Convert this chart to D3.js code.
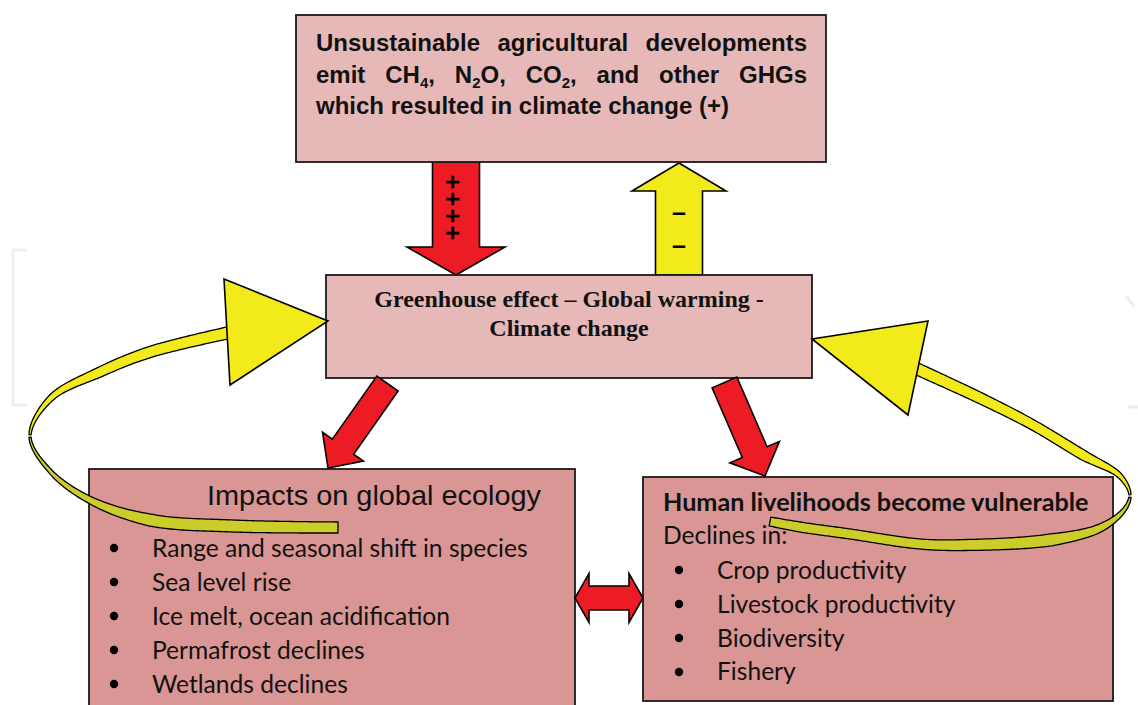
<!DOCTYPE html>
<html>
<head>
<meta charset="utf-8">
<script src="https://cdn.jsdelivr.net/npm/d3@7"></script>
<style>
  body { margin: 0; background: #fff; }
  svg { display: block; }
</style>
</head>
<body>
<div id="chart"></div>
<script>
// ---- diagram content ----
const topLines = [
  "Unsustainable agricultural developments",
  "emit CH_4, N_2O, CO_2, and other GHGs",
  "which resulted in climate change (+)"
];
const centreLines = ["Greenhouse effect \u2013 Global warming -", "Climate change"];
const ecologyTitle = "Impacts on global ecology";
const ecologyItems = [
  "Range and seasonal shift in species",
  "Sea level rise",
  "Ice melt, ocean acidification",
  "Permafrost declines",
  "Wetlands declines"
];
const livelihoodTitle = "Human livelihoods become vulnerable";
const livelihoodLead = "Declines in:";
const livelihoodItems = ["Crop productivity", "Livestock productivity", "Biodiversity", "Fishery"];
const plusSigns = ["+", "+", "+", "+"];
const minusSigns = ["\u2013", "\u2013"];

// ---- layout ----
const W = 1138, H = 705;
const RED = "#ed1c24", YELLOW = "#f2ea1a", OLIVE = "#cccc2b";
const PINK = "#e6b9b8", ROSE = "#d99694";

const svg = d3.select("#chart").append("svg")
    .attr("width", W)
    .attr("height", H);

// faint watermark brackets at the page edges
svg.append("path")
    .attr("d", "M27,250 L13,250 L13,405 L27,405")
    .attr("fill", "none").attr("stroke", "#efefef").attr("stroke-width", 3);
svg.append("path")
    .attr("d", "M1126,296 L1134,306 M1128,407 L1138,407")
    .attr("fill", "none").attr("stroke", "#efefef").attr("stroke-width", 3);

// block arrow from tail centre to tip
function blockArrow(tail, tip, shaftW, headW, headL, fill) {
  const dx = tip[0] - tail[0], dy = tip[1] - tail[1];
  const len = Math.hypot(dx, dy);
  const ang = Math.atan2(dy, dx) * 180 / Math.PI;
  const s = shaftW / 2, h = headW / 2, b = len - headL;
  const pts = [[0, -s], [b, -s], [b, -h], [len, 0], [b, h], [b, s], [0, s]];
  svg.append("path")
      .attr("transform", `translate(${tail[0]},${tail[1]}) rotate(${ang})`)
      .attr("d", d3.line()(pts) + "Z")
      .attr("fill", fill)
      .attr("stroke", "#000")
      .attr("stroke-width", 1.6)
      .attr("stroke-linejoin", "miter");
}

function box(b) {
  svg.append("rect")
      .attr("x", b.x).attr("y", b.y)
      .attr("width", b.w).attr("height", b.h)
      .attr("fill", b.fill)
      .attr("stroke", "#1a1a1a")
      .attr("stroke-width", 1.8);
}

const boxTop = {x: 296, y: 15, w: 530, h: 147, fill: PINK};
const boxCentre = {x: 326, y: 275, w: 486, h: 103, fill: PINK};
const boxEco = {x: 89, y: 469, w: 486, h: 260, fill: ROSE};
const boxLive = {x: 643, y: 477, w: 470, h: 224, fill: ROSE};

// arrows between top and centre box
blockArrow([456, 162], [456, 275], 47, 98, 28, RED);
blockArrow([679, 275], [679, 163], 47, 94, 28, YELLOW);

[boxTop, boxCentre, boxEco, boxLive].forEach(box);

// diagonal red arrows from centre box
blockArrow([387.5, 383.5], [328, 468], 26, 50, 26, RED);
blockArrow([724.5, 382.5], [765, 476], 27, 54, 26, RED);

// double-headed arrow between the lower boxes
(function () {
  const l = 575, r = 643, cy = 598, hl = 14, hh = 24.5, sh = 12;
  const pts = [[l, cy], [l + hl, cy - hh], [l + hl, cy - sh], [r - hl, cy - sh], [r - hl, cy - hh],
               [r, cy], [r - hl, cy + hh], [r - hl, cy + sh], [l + hl, cy + sh], [l + hl, cy + hh]];
  svg.append("path").attr("d", d3.line()(pts) + "Z")
      .attr("fill", RED).attr("stroke", "#000").attr("stroke-width", 1.6);
})();

// signs on the vertical arrows
const signFont = "bold 25px 'Liberation Sans', Arial, sans-serif";
// plus signs: one run of text turned to run downwards (a "+" looks the same turned)
svg.append("text")
    .attr("transform", "translate(453,207.5) rotate(90)")
    .attr("x", 1.2).attr("y", 8.9)
    .attr("text-anchor", "middle")
    .style("font", signFont)
    .style("letter-spacing", "2.4px")
    .text(plusSigns.join(""));
svg.append("text")
    .attr("text-anchor", "middle")
    .style("font", signFont)
  .selectAll("tspan").data(minusSigns).join("tspan")
    .attr("x", 679).attr("y", (d, i) => 221 + i * 33)
    .text(d => d);

// ---- top box text (justified, with subscripts) ----
function segments(tok) {
  const segs = [], re = /_(\d)/g;
  let last = 0, m;
  while ((m = re.exec(tok))) {
    if (m.index > last) segs.push({t: tok.slice(last, m.index)});
    segs.push({t: m[1], sub: true});
    last = re.lastIndex;
  }
  if (last < tok.length) segs.push({t: tok.slice(last)});
  return segs;
}

const topFont = "bold 24px 'Liberation Sans', Arial, sans-serif";
const topLeft = 316, topRight = 807;
topLines.forEach((line, li) => {
  const y = 51 + li * 31.5;
  const words = line.split(" ").map(w => {
    const t = svg.append("text").attr("y", y).style("font", topFont).attr("fill", "#111");
    let shifted = false;
    segments(w).forEach(sg => {
      const ts = t.append("tspan").text(sg.t);
      if (sg.sub) { ts.attr("dy", 5).style("font-size", "15px"); shifted = true; }
      else if (shifted) { ts.attr("dy", -5); shifted = false; }
    });
    return {node: t, w: t.node().getComputedTextLength()};
  });
  const total = d3.sum(words, d => d.w);
  const last = li === topLines.length - 1;
  const gap = last ? 6.7 : (topRight - topLeft - total) / (words.length - 1);
  let x = topLeft;
  words.forEach(d => { d.node.attr("x", x); x += d.w + gap; });
});

// ---- centre box text ----
svg.append("g").selectAll("text").data(centreLines).join("text")
    .attr("x", 569).attr("y", (d, i) => 307 + i * 29)
    .attr("text-anchor", "middle")
    .style("font", "bold 24px 'Liberation Serif', 'Times New Roman', serif")
    .attr("fill", "#111")
    .text(d => d);

// ---- ecology box ----
svg.append("text")
    .attr("x", 207).attr("y", 505)
    .style("font", "27px 'Liberation Sans', Arial, sans-serif")
    .attr("textLength", 334).attr("lengthAdjust", "spacingAndGlyphs")
    .attr("fill", "#111")
    .text(ecologyTitle);

const bodyFont = "24.6px Lato, 'Open Sans', sans-serif";
const eco = svg.append("g");
eco.selectAll("circle").data(ecologyItems).join("circle")
    .attr("cx", 114).attr("cy", (d, i) => 548 + i * 34).attr("r", 4.2).attr("fill", "#000");
eco.selectAll("text").data(ecologyItems).join("text")
    .attr("x", 152).attr("y", (d, i) => 557 + i * 34)
    .style("font", bodyFont).attr("fill", "#111")
    .text(d => d);

// ---- livelihood box ----
svg.append("text")
    .attr("x", 663).attr("y", 511)
    .style("font", "bold 25.2px Lato, 'Open Sans', sans-serif")
    .attr("fill", "#111")
    .text(livelihoodTitle);
svg.append("text")
    .attr("x", 663).attr("y", 544)
    .style("font", bodyFont).attr("fill", "#111")
    .text(livelihoodLead);
const live = svg.append("g");
live.selectAll("circle").data(livelihoodItems).join("circle")
    .attr("cx", 679).attr("cy", (d, i) => 570 + i * 34).attr("r", 4.2).attr("fill", "#000");
live.selectAll("text").data(livelihoodItems).join("text")
    .attr("x", 717).attr("y", (d, i) => 579 + i * 33.8)
    .style("font", bodyFont).attr("fill", "#111")
    .text(d => d);

// ---- curved ribbon arrows ----
function ribbon(pts, widths, split, head) {
  const tmp = svg.append("path").attr("d", d3.line().curve(d3.curveCatmullRom.alpha(0.5))(pts))
      .attr("fill", "none");
  const node = tmp.node(), L = node.getTotalLength();
  // chord-length fraction of every control point
  const cum = [0];
  for (let i = 1; i < pts.length; i++) cum.push(cum[i - 1] + Math.hypot(pts[i][0] - pts[i - 1][0], pts[i][1] - pts[i - 1][1]));
  const frac = cum.map(c => c / cum[cum.length - 1]);
  const wScale = d3.scaleLinear().domain(frac).range(widths);
  const N = 240, side1 = [], side2 = [];
  for (let k = 0; k <= N; k++) {
    const f = k / N, p = node.getPointAtLength(f * L);
    const p2 = node.getPointAtLength(Math.min(L, f * L + 0.5)), p1 = node.getPointAtLength(Math.max(0, f * L - 0.5));
    let tx = p2.x - p1.x, ty = p2.y - p1.y; const tl = Math.hypot(tx, ty) || 1;
    const nx = -ty / tl, ny = tx / tl, w = wScale(f) / 2;
    side1.push([p.x + nx * w, p.y + ny * w, f]);
    side2.push([p.x - nx * w, p.y - ny * w, f]);
  }
  tmp.remove();
  const fs = frac[split];
  const part = (a, b, fill) => {
    const s1 = side1.filter(d => d[2] >= a - 1e-9 && d[2] <= b + 1e-9);
    const s2 = side2.filter(d => d[2] >= a - 1e-9 && d[2] <= b + 1e-9).reverse();
    svg.append("path")
        .attr("d", d3.line()(s1.concat(s2).map(d => [d[0], d[1]])) + "Z")
        .attr("fill", fill).attr("stroke", "#000").attr("stroke-width", 1.3)
        .attr("stroke-linejoin", "round");
  };
  part(0, fs, OLIVE);
  part(fs, 1, YELLOW);
  svg.append("path").attr("d", d3.line()(head) + "Z")
      .attr("fill", YELLOW).attr("stroke", "#000").attr("stroke-width", 1.6);
}

ribbon(
  [[338, 527.5], [233, 526], [150, 520], [90, 500], [50, 471], [30, 436], [51, 398], [100, 372], [150, 352], [232, 332]],
  [11, 12, 12, 7, 4, 2, 6, 10, 11, 12],
  5,
  [[224, 279], [328, 321], [230, 385]]
);
ribbon(
  [[770, 521.5], [800, 527], [850, 534], [920, 544], [967, 545], [1050, 540], [1100, 528], [1124, 510], [1130, 495],
   [1120, 476], [1083, 455], [1033, 425], [980, 398], [915, 368]],
  [9, 10, 10, 10, 11, 12, 8, 4, 2, 5, 10, 10, 11, 12],
  8,
  [[928, 321], [812, 339], [908, 415]]
);
</script>
</body>
</html>
